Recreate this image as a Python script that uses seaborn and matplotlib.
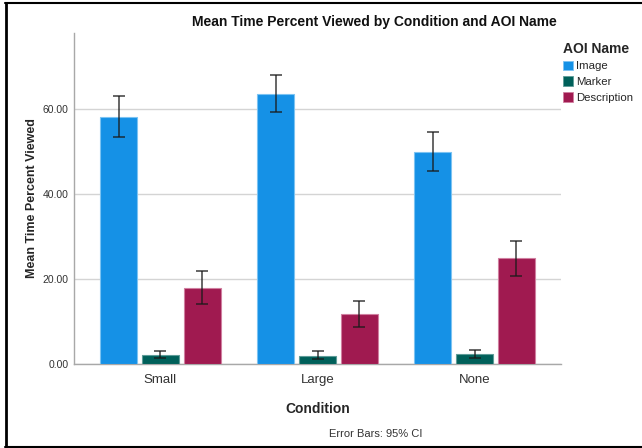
import matplotlib
matplotlib.use("Agg")
import matplotlib.pyplot as plt
from matplotlib.patches import Patch
from matplotlib.lines import Line2D
import numpy as np
import pandas as pd
import seaborn as sns

# Mean percent of time viewed per AOI, with 95% CI bounds
conditions = ["Small", "Large", "None"]
aoi_names = ["Image", "Marker", "Description"]
image_mean = [58.3, 63.7, 50.0]
image_lo = [53.6, 59.3, 45.4]
image_hi = [63.1, 68.1, 54.7]
marker_mean = [2.2, 1.9, 2.3]
marker_lo = [1.5, 1.1, 1.4]
marker_hi = [3.1, 3.0, 3.4]
desc_mean = [18.0, 11.8, 24.9]
desc_lo = [14.2, 8.7, 20.7]
desc_hi = [21.8, 14.8, 29.1]
y_ticks = [0, 20, 40, 60]
y_tick_labels = ["0.00", "20.00", "40.00", "60.00"]

palette = {"Image": "#1591e6", "Marker": "#00605a", "Description": "#a01a50"}
edge_colors = {"Image": "#7cc3f2", "Marker": "#5e9c98", "Description": "#d07fa0"}

df = pd.DataFrame({
    "Condition": conditions * 3,
    "AOI Name": [a for a in aoi_names for _ in conditions],
    "Mean": image_mean + marker_mean + desc_mean,
    "Lo": image_lo + marker_lo + desc_lo,
    "Hi": image_hi + marker_hi + desc_hi,
})

sns.set_theme(style="white")
plt.rcParams["font.family"] = ["Liberation Sans", "DejaVu Sans"]

fig = plt.figure(figsize=(6.42, 4.48), dpi=100)
W, H = 642, 448
ax = fig.add_axes([74 / W, 1 - 364 / H, (561 - 74) / W, (364 - 33) / H])

sns.barplot(data=df, x="Condition", y="Mean", hue="AOI Name",
            order=conditions, hue_order=aoi_names, palette=palette,
            errorbar=None, width=0.8, gap=0.12, saturation=1,
            legend=False, ax=ax, zorder=3)

# colour bar outlines and add the confidence-interval whiskers
for name, container in zip(aoi_names, ax.containers):
    sub = df[df["AOI Name"] == name].set_index("Condition").loc[conditions]
    xs = []
    for bar in container:
        bar.set_edgecolor(edge_colors[name])
        bar.set_linewidth(0.8)
        xs.append(bar.get_x() + bar.get_width() / 2)
    means = sub["Mean"].to_numpy()
    yerr = np.vstack([means - sub["Lo"].to_numpy(), sub["Hi"].to_numpy() - means])
    ax.errorbar(xs, means, yerr=yerr, fmt="none", ecolor="#1a1a1a",
                elinewidth=1.1, capsize=4, capthick=1.1, zorder=4, alpha=0.85)

ax.set_xlim(-0.55, 2.55)
ax.set_ylim(0, 78)
ax.set_yticks(y_ticks)
ax.set_yticklabels(y_tick_labels, fontsize=7.5, color="#333333")
ax.tick_params(axis="x", labelsize=9.5, labelcolor="#333333", length=0, pad=7)
ax.tick_params(axis="y", length=0, pad=4)
ax.yaxis.grid(True, color="#d4d4d4", linewidth=1.0, zorder=0)
ax.set_axisbelow(True)
for s in ["top", "right"]:
    ax.spines[s].set_visible(False)
for s in ["left", "bottom"]:
    ax.spines[s].set_color("#a8a8a8")
    ax.spines[s].set_linewidth(1.0)

ax.set_xlabel("Condition", fontsize=10, fontweight="bold", labelpad=12)
ax.set_ylabel("Mean Time Percent Viewed", fontsize=9, fontweight="bold", labelpad=3)

fig.text(374 / W, 1 - 22 / H, "Mean Time Percent Viewed by Condition and AOI Name",
         ha="center", va="center", fontsize=10, fontweight="bold", color="#111111")
fig.text(376 / W, 1 - 434 / H, "Error Bars: 95% CI",
         ha="center", va="center", fontsize=8, color="#333333")

handles = [Patch(facecolor=palette[a], edgecolor=edge_colors[a], linewidth=0.6) for a in aoi_names]
leg = fig.legend(handles, aoi_names, title="AOI Name", loc="upper left",
                 bbox_to_anchor=(558 / W, 1 - 37 / H), frameon=False,
                 prop={"size": 8.2}, title_fontproperties={"weight": "bold", "size": 10},
                 handlelength=0.9, handleheight=0.9, handletextpad=0.25,
                 labelspacing=0.45, borderaxespad=0)
leg._legend_box.align = "left"

# outer frame on left, top and bottom
frame_kw = dict(color="black", transform=fig.transFigure, clip_on=False)
fig.add_artist(Line2D([6 / W, 6 / W], [1 - 3 / H, 1 - 446.5 / H], linewidth=2.0, **frame_kw))
fig.add_artist(Line2D([5 / W, 1.0], [1 - 3 / H, 1 - 3 / H], linewidth=1.5, **frame_kw))
fig.add_artist(Line2D([5 / W, 1.0], [1 - 446.5 / H, 1 - 446.5 / H], linewidth=1.5, **frame_kw))

fig.savefig("out.png", dpi=100)
